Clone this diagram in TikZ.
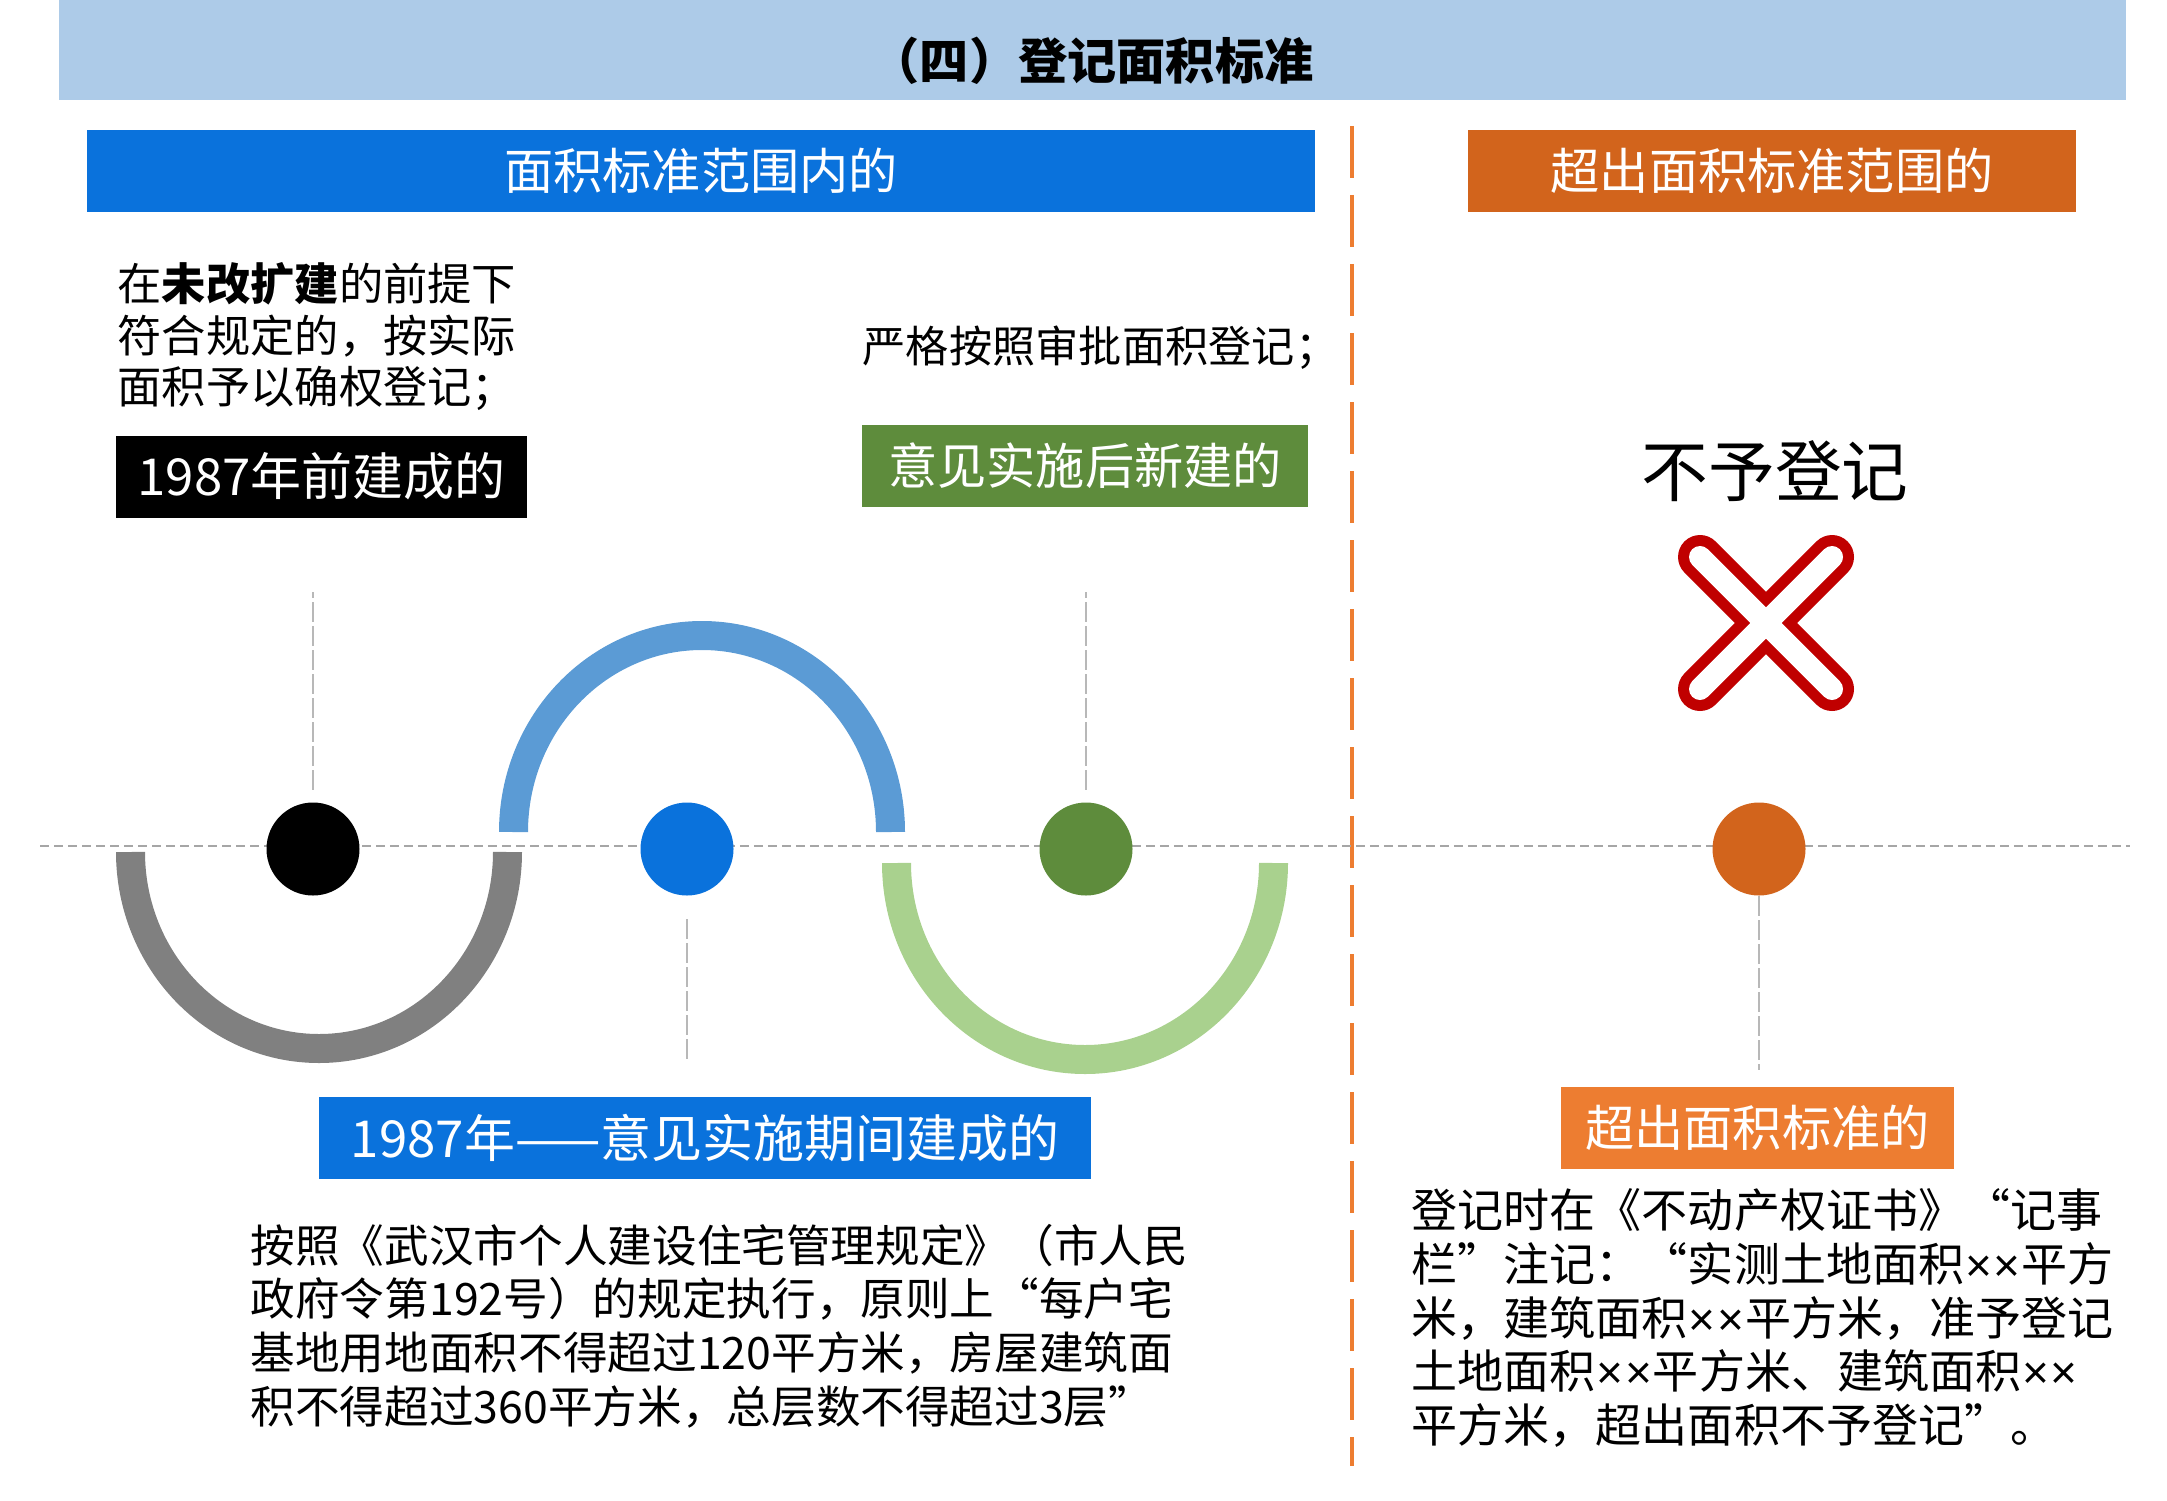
\documentclass[tikz,border=0pt]{standalone}
\usepackage{fontspec}
\setmainfont{Noto Sans CJK SC}
\newfontfamily\xfont{Liberation Sans}
\newcommand\tm{\makebox[0.62em]{\xfont ×}}
\definecolor{bandblue}{HTML}{ADCBE8}
\definecolor{hdrblue}{HTML}{0A72DC}
\definecolor{hdrorange}{HTML}{D2641C}
\definecolor{boxorange}{HTML}{ED7D31}
\definecolor{boxgreen}{HTML}{5E8C3C}
\definecolor{arcgray}{HTML}{808080}
\definecolor{arcblue}{HTML}{5B9BD5}
\definecolor{arcgreen}{HTML}{A9D18E}
\definecolor{crossred}{HTML}{C00000}
\definecolor{guidegray}{HTML}{A6A6A6}

\begin{document}
\begin{tikzpicture}[x=0.1mm,y=-0.1mm,
    lab/.style={text=white,font=\fontsize{14}{16}\selectfont,inner sep=0pt,minimum height=8.2mm},
    dot/.style={circle,inner sep=0pt,minimum size=9.3mm},
    guide/.style={guidegray!80,line width=0.4pt,dash pattern=on 2mm off 0.4mm},
    band/.style={line width=2.9mm},
    body/.style={anchor=west,align=left,inner sep=0pt}]
  \useasboundingbox (0,0) rectangle (2167,1500);
  % title
  \fill[bandblue] (59,0) rectangle (2126,100);
  \node[font=\bfseries\fontsize{14}{16}\selectfont] (title) at (1092,61) {（四）登记面积标准};
  \node[lab,fill=hdrblue,minimum width=122.8mm] (inhdr) at (701,171) {面积标准范围内的};
  \node[lab,fill=hdrorange,minimum width=60.8mm] (outhdr) at (1772,171) {超出面积标准范围的};
  \draw[boxorange,line width=1.3pt,dash pattern=on 5.2mm off 1.7mm] (1352,126) -- (1352,1466);
  % timeline
  \draw[guidegray,line width=0.6pt,dash pattern=on 0.9mm off 0.5mm] (40,846) -- (2130,846);
  \draw[band,arcgray] (130.5,852) arc[start angle=180,end angle=360,x radius=18.85mm,y radius=19.65mm];
  \draw[band,arcblue] (513.5,832) arc[start angle=180,end angle=0,x radius=18.85mm,y radius=19.65mm];
  \draw[band,arcgreen] (896.5,863) arc[start angle=180,end angle=360,x radius=18.85mm,y radius=19.65mm];
  \node[dot,fill=black] (d1987) at (313,849) {};
  \node[dot,fill=hdrblue] (dmid) at (687,849) {};
  \node[dot,fill=boxgreen] (dnew) at (1086,849) {};
  \node[dot,fill=hdrorange] (dover) at (1759,849) {};
  \coordinate (g1987) at (313,592);
  \coordinate (gnew) at (1086,592);
  \coordinate (gmid) at (687,1063);
  \coordinate (gover) at (1759,1070);
  \draw[guide,shorten <=1.2mm] (d1987) -- (g1987);
  \draw[guide,shorten <=1.2mm] (dnew) -- (gnew);
  \draw[guide,shorten <=2.3mm] (dmid) -- (gmid);
  \draw[guide] (dover) -- (gover);
  % labels above
  \node[body,font=\fontsize{12.6}{14.65}\selectfont] (x1987) at (117,337) {在\textbf{未改扩建}的前提下\\符合规定的，按实际\\面积予以确权登记；};
  \node[lab,fill=black,minimum width=41.1mm,font=\fontsize{14.5}{16}\selectfont] (b1987) at (321.5,476.5) {1987年前建成的};
  \node[body,font=\fontsize{12.3}{14}\selectfont] (xnew) at (862,348) {严格按照审批面积登记；};
  \node[lab,fill=boxgreen,minimum width=44.6mm] (bnew) at (1085,465.5) {意见实施后新建的};
  \node[font=\fontsize{19}{22}\selectfont] (xno) at (1775,471) {不予登记};
  \draw[crossred,line width=4.4mm,line cap=round] (1700,557) -- (1832,689) (1700,689) -- (1832,557);
  \draw[white,line width=2.2mm,line cap=round] (1700,557) -- (1832,689) (1700,689) -- (1832,557);
  % labels below
  \node[lab,fill=hdrblue,minimum width=77.2mm,font=\fontsize{14.5}{16}\selectfont] (bmid) at (705,1138) {1987年——意见实施期间建成的};
  \node[lab,fill=boxorange,minimum width=39.3mm] (bover) at (1757.5,1128) {超出面积标准的};
  \node[body,font=\fontsize{12.7}{15.3}\selectfont] (xmid) at (250,1326) {按照《武汉市个人建设住宅管理规定》（市人民\\政府令第192号）的规定执行，原则上“每户宅\\基地用地面积不得超过120平方米，房屋建筑面\\积不得超过360平方米，总层数不得超过3层”};
  \node[body,font=\fontsize{13.1}{15.3}\selectfont] (xover) at (1411,1318) {登记时在《不动产权证书》“记事\\栏”注记：“实测土地面积\tm\tm 平方\\米，建筑面积\tm\tm 平方米，准予登记\\土地面积\tm\tm 平方米、建筑面积\tm\tm\\平方米，超出面积不予登记”。};
\end{tikzpicture}
\end{document}
